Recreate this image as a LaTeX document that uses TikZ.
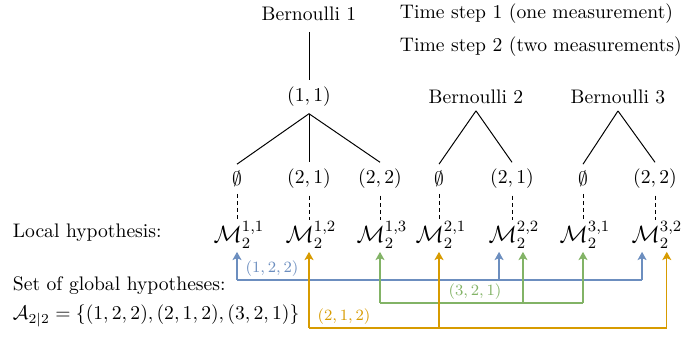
\documentclass[tikz,border=0pt]{standalone}
\usepackage{amsmath}
\usepackage{xcolor}
\usetikzlibrary{arrows.meta}

\definecolor{hypblue}{RGB}{108,142,191}
\definecolor{hypgreen}{RGB}{130,179,102}
\definecolor{hyporange}{RGB}{215,155,0}

\begin{document}
\begin{tikzpicture}[
    x=5.1pt, y=-5.1pt,
    branch/.style={line width=0.5pt},
    link/.style={line width=0.5pt, dash pattern=on 2pt off 1.6pt},
    local/.style={inner sep=0.5pt, font=\large},
    hyp/.style={draw=#1, line width=0.6pt},
    hyparrow/.style={draw=#1, line width=0.6pt, -{Stealth[length=4.2pt, width=4.6pt, inset=1pt]}},
    hyplabel/.style={text=#1, font=\footnotesize, inner sep=0pt}
]
    \useasboundingbox (0,0) rectangle (69.9,33.9);

    % Headings
    \node (bern1) at (30.9,1.4) {Bernoulli 1};
    \node[anchor=west] (step1) at (39.3,1.4) {Time step 1 (one measurement)};
    \node[anchor=west] (step2) at (39.3,4.7) {Time step 2 (two measurements)};
    \node (bern2) at (47.6,9.7) {Bernoulli 2};
    \node (bern3) at (61.8,9.7) {Bernoulli 3};
    \node (meas11) at (30.9,9.7) {$(1,1)$};

    % Children
    \node (c11) at (23.7,17.9) {$\emptyset$};
    \node (c12) at (30.9,17.9) {$(2,1)$};
    \node (c13) at (38.0,17.9) {$(2,2)$};
    \node (c21) at (43.9,17.9) {$\emptyset$};
    \node (c22) at (51.2,17.9) {$(2,1)$};
    \node (c31) at (58.3,17.9) {$\emptyset$};
    \node (c32) at (65.5,17.9) {$(2,2)$};

    % Local hypotheses
    \node[local] (m11) at (23.9,23.5) {$\mathcal{M}_2^{1,1}$};
    \node[local] (m12) at (31.1,23.5) {$\mathcal{M}_2^{1,2}$};
    \node[local] (m13) at (38.2,23.5) {$\mathcal{M}_2^{1,3}$};
    \node[local] (m21) at (44.1,23.5) {$\mathcal{M}_2^{2,1}$};
    \node[local] (m22) at (51.4,23.5) {$\mathcal{M}_2^{2,2}$};
    \node[local] (m31) at (58.5,23.5) {$\mathcal{M}_2^{3,1}$};
    \node[local] (m32) at (65.7,23.5) {$\mathcal{M}_2^{3,2}$};

    % Left texts
    \node[anchor=west] (local) at (0.6,23.3) {Local hypothesis:};
    \node[anchor=west] (global) at (0.6,28.6) {Set of global hypotheses:};
    \node[anchor=west] (aset) at (0.6,31.6)
        {$\mathcal{A}_{2|2} = \{(1,2,2),(2,1,2),(3,2,1)\}$};

    % Tree branches
    \draw[branch, shorten <=2pt] (bern1.south) -- (meas11.north);
    \foreach \c in {c11,c12,c13}
        \draw[branch] (meas11.south) -- (\c.north);
    \foreach \c in {c21,c22}
        \draw[branch] (bern2.south) -- (\c.north);
    \foreach \c in {c31,c32}
        \draw[branch] (bern3.south) -- (\c.north);

    % Dashed links
    \foreach \i in {11,12,13,21,22,31,32}
        \draw[link] (c\i.south) -- (c\i.south |- m\i.north);

    % Rails of the global hypotheses
    \coordinate (rail_blue) at (0,28.0);
    \coordinate (rail_green) at (0,30.3);
    \coordinate (rail_orange) at (0,32.8);

    \coordinate (end_b1) at ([yshift=-1pt]c11.south |- m11.south);
    \coordinate (end_b2) at ([xshift=-6.6pt, yshift=-1pt]c22.south |- m22.south);
    \coordinate (end_b3) at ([xshift=-6.6pt, yshift=-1pt]c32.south |- m32.south);
    \coordinate (end_g1) at ([yshift=-1pt]c13.south |- m13.south);
    \coordinate (end_g2) at ([xshift=5.6pt, yshift=-1pt]c22.south |- m22.south);
    \coordinate (end_g3) at ([yshift=-1pt]c31.south |- m31.south);
    \coordinate (end_o1) at ([yshift=-1pt]c12.south |- m12.south);
    \coordinate (end_o2) at ([yshift=-1pt]c21.south |- m21.south);
    \coordinate (end_o3) at ([xshift=6pt, yshift=-1pt]c32.south |- m32.south);

    % (1,2,2)
    \draw[hyp=hypblue] (end_b1 |- rail_blue) -- (end_b3 |- rail_blue);
    \foreach \e in {end_b1,end_b2,end_b3}
        \draw[hyparrow=hypblue] (\e |- rail_blue) -- (\e);
    \node[hyplabel=hypblue] (lbl_blue) at (27.2,26.9) {$(1,2,2)$};

    % (3,2,1)
    \draw[hyp=hypgreen] (end_g1 |- rail_green) -- (end_g3 |- rail_green);
    \foreach \e in {end_g1,end_g2,end_g3}
        \draw[hyparrow=hypgreen] (\e |- rail_green) -- (\e);
    \node[hyplabel=hypgreen] (lbl_green) at (47.5,29.2) {$(3,2,1)$};

    % (2,1,2)
    \draw[hyp=hyporange] (end_o1 |- rail_orange) -- (end_o3 |- rail_orange);
    \foreach \e in {end_o1,end_o2,end_o3}
        \draw[hyparrow=hyporange] (\e |- rail_orange) -- (\e);
    \node[hyplabel=hyporange] (lbl_orange) at (34.4,31.7) {$(2,1,2)$};

\end{tikzpicture}
\end{document}
